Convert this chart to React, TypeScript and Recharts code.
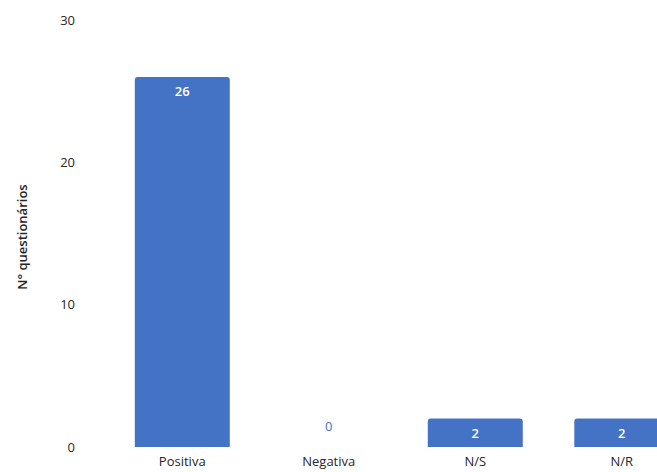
import { BarChart, Bar, XAxis, YAxis, LabelList, Rectangle } from "recharts";

const categories = ["Positiva", "Negativa", "N/S", "N/R"];
const counts = [26, 0, 2, 2];
const yTicks = [0, 10, 20, 30];

const data = categories.map((name, i) => ({ name, count: counts[i] }));

const FONT = "'Open Sans', 'Noto Sans', sans-serif";
const BLUE = "#4472C4";

// barra normal; quando o valor é zero escreve o "0" azul por cima do eixo
const BarShape = (props: any) => {
  const { x, y, width, height, value } = props;
  const v = Array.isArray(value) ? value[1] - value[0] : value;
  if (!v) {
    return (
      <text x={x + width / 2} y={y - 21} textAnchor="middle" dominantBaseline="central"
        fill={BLUE} fontSize={13} fontFamily={FONT}>
        0
      </text>
    );
  }
  return <Rectangle x={x} y={y} width={width} height={height} fill={BLUE} radius={[3, 3, 0, 0]} />;
};

// valor dentro da barra, em branco
const BarValue = (props: any) => {
  const { x, y, width, value } = props;
  if (!value) return null;
  return (
    <text x={x + width / 2} y={y + 14} textAnchor="middle" dominantBaseline="central"
      fill="#ffffff" fontSize={13} fontWeight={600} fontFamily={FONT}>
      {value}
    </text>
  );
};

const YTitle = () => (
  <text x={22} y={237} transform="rotate(-90, 22, 237)" textAnchor="middle"
    dominantBaseline="central" fill="#262626" fontSize={13} fontWeight={600}
    fontFamily={FONT}>
    N° questionários
  </text>
);

export default function App() {
  return (
    <div style={{ position: "fixed", top: 0, left: 0, width: 657, height: 472, overflow: "hidden", background: "#fff" }}>
      <BarChart width={700} height={472} data={data}
        margin={{ top: 20, right: 5, bottom: 0, left: 0 }}
        barCategoryGap="17.6%">
        <XAxis dataKey="name" axisLine={false} tickLine={false} height={25}
          tick={{ fill: "#262626", fontSize: 13, fontFamily: FONT }} tickMargin={4} />
        <YAxis domain={[0, 30]} ticks={yTicks} axisLine={false} tickLine={false}
          width={109} tickSize={0} tickMargin={34}
          tick={{ fill: "#262626", fontSize: 13, fontFamily: FONT }}
          label={<YTitle />} />
        <Bar dataKey="count" fill={BLUE} shape={<BarShape />} isAnimationActive={false}>
          <LabelList dataKey="count" content={<BarValue />} />
        </Bar>
      </BarChart>
    </div>
  );
}
